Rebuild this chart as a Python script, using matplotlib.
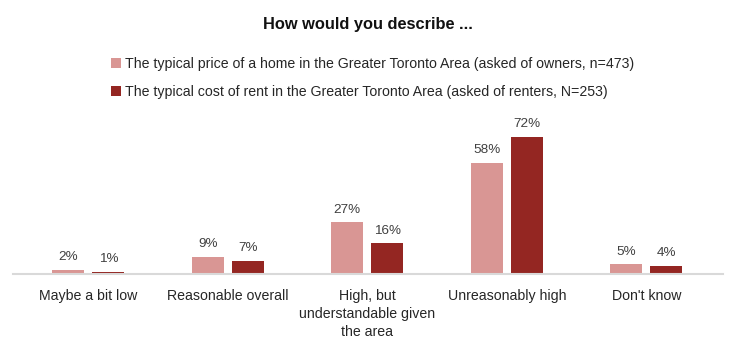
import matplotlib
matplotlib.use('Agg')
from matplotlib import pyplot as plt
import numpy as np

categories = ['Maybe a bit low', 'Reasonable overall', 'High, but\nunderstandable given\nthe area',
              'Unreasonably high', "Don't know"]
owners = [2, 9, 27, 58, 5]
renters = [1, 7, 16, 72, 4]
owners_label = 'The typical price of a home in the Greater Toronto Area (asked of owners, n=473)'
renters_label = 'The typical cost of rent in the Greater Toronto Area (asked of renters, N=253)'

plt.rcParams['font.family'] = ['Liberation Sans', 'DejaVu Sans']

fig = plt.figure(figsize=(7.35, 3.52), dpi=100)
ax = fig.add_axes([13 / 735, 78 / 352, 710 / 735, 166 / 352])

x = np.arange(len(categories))
w = 0.23
off = 0.143
b1 = ax.bar(x - off, owners, w, color='#D99694', label=owners_label)
b2 = ax.bar(x + off, renters, w, color='#942622', label=renters_label)

for bars, vals in ((b1, owners), (b2, renters)):
    for b, v in zip(bars, vals):
        ax.annotate(f'{v}%', (b.get_x() + b.get_width() / 2, v), xytext=(0, 5),
                    textcoords='offset points', ha='center', va='bottom',
                    fontsize=9.7, color='#404040')

ax.set_xlim(-0.54, 4.55)
ax.set_ylim(0, 87)
ax.set_xticks(x)
ax.set_xticklabels(categories, fontsize=10.2, color='#262626', linespacing=1.35)
ax.tick_params(axis='x', length=0, pad=11)
ax.set_yticks([])
for s in ['top', 'right', 'left']:
    ax.spines[s].set_visible(False)
ax.spines['bottom'].set_color('#D9D9D9')
ax.spines['bottom'].set_linewidth(1.5)

fig.text(0.5, 1 - 24 / 352, 'How would you describe ...', ha='center', va='center',
         fontsize=11.8, fontweight='bold', color='#111111')
fig.legend(handles=[b1, b2], loc='upper left', bbox_to_anchor=(98 / 735, 1 - 44 / 352),
           frameon=False, fontsize=10.2, handlelength=0.7, handleheight=0.7,
           handletextpad=0.3, labelspacing=1.0, labelcolor='#262626')

fig.savefig('out.png', dpi=100)
